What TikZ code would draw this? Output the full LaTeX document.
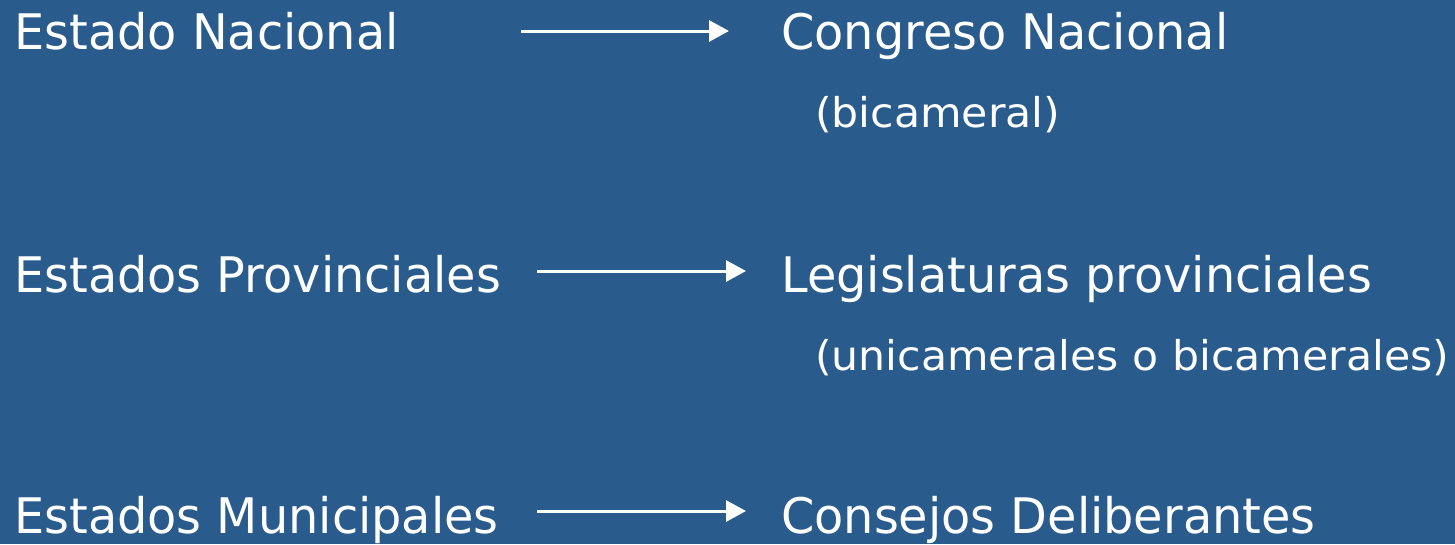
\documentclass[tikz,border=0pt]{standalone}
\usepackage{fontspec}
\setmainfont{DejaVu Sans}
\newfontfamily\mainfnt[FakeStretch=0.975]{DejaVu Sans}
\newfontfamily\subfnt[FakeStretch=1.04]{DejaVu Sans}
\usetikzlibrary{arrows.meta}
\definecolor{bg}{RGB}{41,91,140}
\tikzset{
  main/.style={anchor=base west, inner sep=0pt, text=white, font=\mainfnt\fontsize{49}{58}\selectfont},
  sub/.style={anchor=base west, inner sep=0pt, text=white, font=\subfnt\fontsize{41}{48}\selectfont},
  arr/.style={draw=white, line width=3pt, -{Triangle[length=20pt,width=21pt]}}
}
\begin{document}
\begin{tikzpicture}[x=1pt,y=-1pt]
\fill[bg] (0,0) rectangle (1455,544);
\useasboundingbox (0,0) rectangle (1455,544);
\node[main] (l1) at (14,49) {Estado Nacional};
\node[main] (r1) at (781,49) {Congreso Nacional};
\node[sub] (s1) at (815,127) {(bicameral)};
\node[main] (l2) at (14,292) {Estados Provinciales};
\node[main] (r2) at (781,292) {Legislaturas provinciales};
\node[sub] (s2) at (815,370) {(unicamerales o bicamerales)};
\node[main] (l3) at (14,533) {Estados Municipales};
\node[main] (r3) at (781,533) {Consejos Deliberantes};
\coordinate (a1s) at (521,31); \coordinate (a1e) at (729,31);
\coordinate (a2s) at (537,271); \coordinate (a2e) at (746,271);
\coordinate (a3s) at (537,511); \coordinate (a3e) at (746,511);
\draw[arr] (a1s) -- (a1e);
\draw[arr] (a2s) -- (a2e);
\draw[arr] (a3s) -- (a3e);
\end{tikzpicture}
\end{document}
